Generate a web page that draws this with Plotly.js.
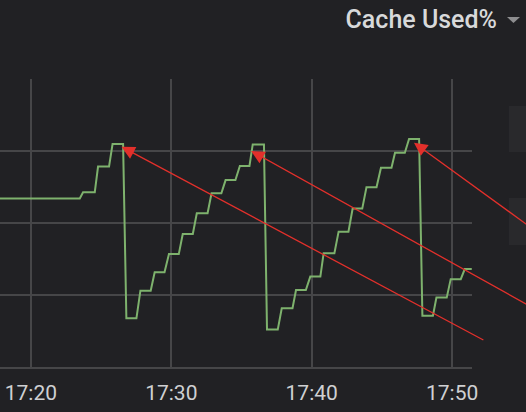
<!DOCTYPE html>
<html>
<head>
<meta charset="utf-8">
<script src="https://cdn.plot.ly/plotly-3.0.1.min.js"></script>
<style>
  html, body { margin: 0; padding: 0; background: #212124; }
  #chart { width: 526px; height: 412px; }
</style>
</head>
<body>
<div id="chart"></div>
<script>
// ---- data ----
var day = '2019-01-01 ';
var times = [
  '17:17:39','17:23:29','17:23:43','17:24:33','17:24:47','17:25:34','17:25:49','17:26:34',
  '17:26:48','17:27:31','17:27:48','17:28:32','17:28:49','17:29:31','17:29:50','17:30:32',
  '17:30:49','17:31:32','17:31:49','17:32:35','17:32:52','17:33:34','17:33:52','17:34:34',
  '17:34:53','17:35:34','17:35:48','17:36:36','17:36:49','17:37:35','17:37:52','17:38:38',
  '17:38:53','17:39:35','17:39:54','17:40:37','17:40:51','17:41:37','17:41:55','17:42:37',
  '17:42:55','17:43:36','17:43:54','17:44:37','17:44:56','17:45:41','17:45:56','17:46:38',
  '17:46:56','17:47:39','17:47:53','17:48:38','17:48:53','17:49:37','17:49:54','17:50:37',
  '17:50:54','17:51:24'
];
var cacheUsed = [
  58.5, 58.5, 60.7, 60.7, 69.6, 69.6, 77.4, 77.4,
  16.9, 16.9, 26.5, 26.5, 32.9, 32.9, 39.2, 39.2,
  46.2, 46.2, 53.4, 53.4, 60.3, 60.3, 64.9, 64.9,
  69.8, 69.8, 77.3, 77.3, 13.0, 13.0, 20.4, 20.4,
  26.7, 26.7, 31.4, 31.4, 39.5, 39.5, 47.0, 47.0,
  55.0, 55.0, 62.4, 62.4, 69.2, 69.2, 74.4, 74.4,
  79.2, 79.2, 17.8, 17.8, 24.1, 24.1, 30.5, 30.5,
  34.0, 34.0
];
// red arrows: head (tip) and tail
var arrowHeadTimes = ['17:26:27', '17:35:41', '17:47:17'];
var arrowHeadValues = [76.5, 75.0, 77.9];
var arrowTailTimes = ['17:52:20', '17:56:11', '17:56:11'];
var arrowTailValues = [9.1, 19.4, 46.4];

var xRange = ['17:17:48', '17:51:25'];
var yTicks = [0, 25, 50, 75, 100];

var gridColor = '#464648';
var textColor = '#cfd0d2';
var font = 'Roboto, "Helvetica Neue", Arial, sans-serif';

var trace = {
  type: 'scatter',
  mode: 'lines',
  x: times.map(function (t) { return day + t; }),
  y: cacheUsed,
  line: { color: '#7eb26d', width: 2 },
  hoverinfo: 'skip'
};

var annotations = arrowHeadTimes.map(function (t, i) {
  return {
    x: day + t, y: arrowHeadValues[i], xref: 'x', yref: 'y',
    ax: day + arrowTailTimes[i], ay: arrowTailValues[i], axref: 'x', ayref: 'y',
    text: '', showarrow: true, arrowhead: 2, arrowsize: 2.05, arrowwidth: 1.3,
    arrowcolor: '#e3302b', standoff: 0
  };
});

var layout = {
  width: 526, height: 412,
  margin: { l: 0, r: 54, t: 79, b: 45, pad: 0 },
  paper_bgcolor: '#212124',
  plot_bgcolor: '#212124',
  showlegend: false,
  font: { family: font, color: textColor, size: 20 },
  title: {
    text: 'Cache Used%',
    font: { family: font, size: 25, color: '#d8d9da', weight: 500 },
    xref: 'container', yref: 'container',
    x: 497 / 526, xanchor: 'right',
    y: 1 - 19.5 / 412, yanchor: 'middle'
  },
  xaxis: {
    type: 'date',
    range: [day + xRange[0], day + xRange[1]],
    tickmode: 'linear', tick0: day + '17:00:00', dtick: 600000,
    tickformat: '%H:%M',
    showgrid: true, gridcolor: gridColor, gridwidth: 2,
    showline: true, linecolor: gridColor, linewidth: 2,
    zeroline: false, ticks: '',
    tickfont: { family: font, size: 21, color: textColor },
    ticklabelstandoff: 6,
    fixedrange: true
  },
  yaxis: {
    range: [0, 100],
    tickmode: 'array', tickvals: yTicks,
    showticklabels: false,
    showgrid: true, gridcolor: gridColor, gridwidth: 2,
    zeroline: false, showline: false, ticks: '',
    fixedrange: true
  },
  shapes: [
    { type: 'path', xref: 'paper', yref: 'paper', layer: 'above',
      path: 'M 1.0742 1.2153 L 1.1017 1.2153 L 1.0879 1.1944 Z',
      fillcolor: '#8e8e90', line: { width: 0 } },
    { type: 'rect', xref: 'paper', yref: 'paper', layer: 'below',
      x0: 1.078, x1: 1.13, y0: 0.7465, y1: 0.906,
      fillcolor: '#29292c', line: { width: 0 } },
    { type: 'rect', xref: 'paper', yref: 'paper', layer: 'below',
      x0: 1.078, x1: 1.13, y0: 0.4236, y1: 0.587,
      fillcolor: '#29292c', line: { width: 0 } }
  ],
  annotations: annotations
};

Plotly.newPlot('chart', [trace], layout, { displayModeBar: false, staticPlot: true });
</script>
</body>
</html>
